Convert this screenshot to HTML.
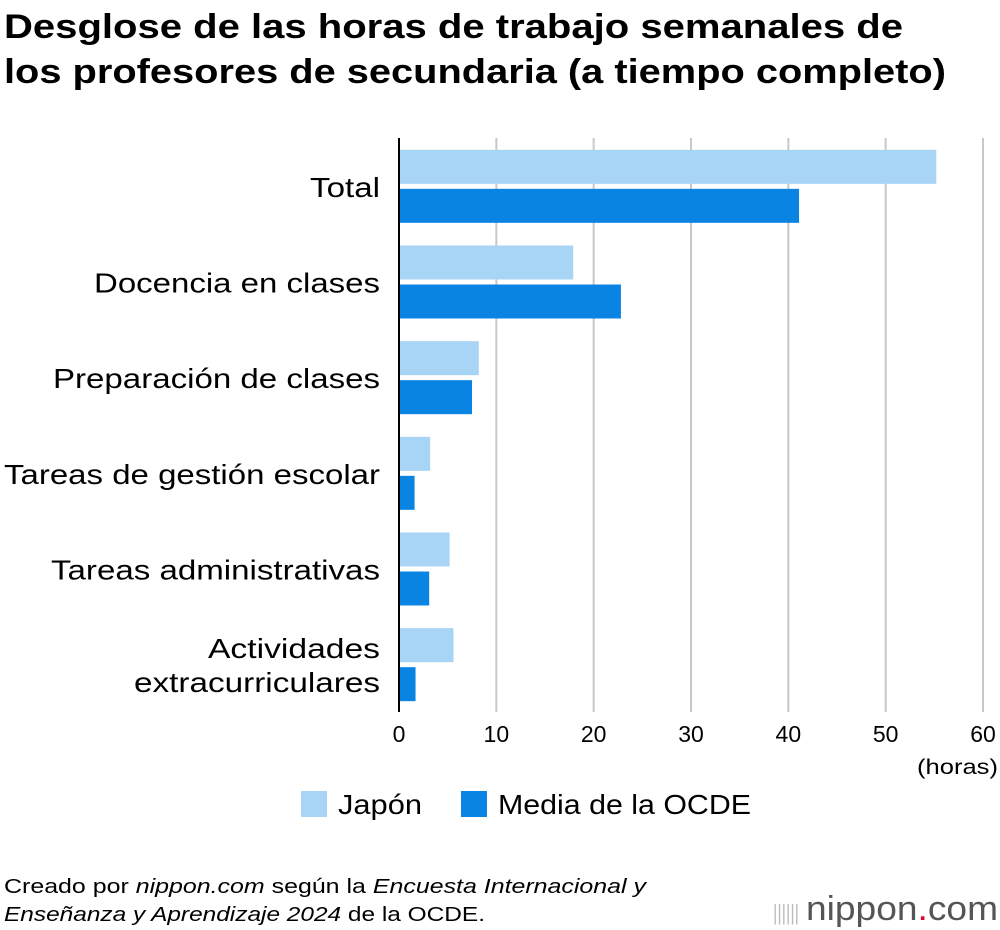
<!DOCTYPE html>
<html><head><meta charset="utf-8"><style>
body{margin:0;background:#fff;font-family:"Liberation Sans",Arial,sans-serif;}
#wrap{position:relative;width:1000px;height:930px;overflow:hidden;}
</style></head><body>
<div id="wrap">
<svg id="chart" width="1000" height="930" style="position:absolute;left:0;top:0" font-family="Liberation Sans, Arial, sans-serif">
<g>
<text x="4" y="38" font-size="34" font-weight="bold" textLength="899" lengthAdjust="spacingAndGlyphs">Desglose de las horas de trabajo semanales de</text>
<text x="4" y="83" font-size="34" font-weight="bold" textLength="942" lengthAdjust="spacingAndGlyphs">los profesores de secundaria (a tiempo completo)</text>
</g>
<g font-size="20">
<text x="4" y="893" textLength="642" lengthAdjust="spacingAndGlyphs">Creado por <tspan font-style="italic">nippon.com</tspan> según la <tspan font-style="italic">Encuesta Internacional y</tspan></text>
<text x="4" y="921" textLength="481" lengthAdjust="spacingAndGlyphs"><tspan font-style="italic">Enseñanza y Aprendizaje 2024</tspan> de la OCDE.</text>
</g>
<g>
<text x="773" y="920" font-size="22" fill="#bbb" textLength="26" lengthAdjust="spacingAndGlyphs">||||||</text>
<text x="806" y="920" font-size="34" fill="#555" textLength="192" lengthAdjust="spacingAndGlyphs">nippon<tspan fill="#e0002a">.</tspan>com</text>
</g>
</svg>
</div>
<script>
const categories=[["Total"],["Docencia en clases"],["Preparación de clases"],["Tareas de gestión escolar"],["Tareas administrativas"],["Actividades","extracurriculares"]];
const japan=[55.2,17.9,8.2,3.2,5.2,5.6];
const oecd=[41.1,22.8,7.5,1.6,3.1,1.7];
const ticks=[0,10,20,30,40,50,60];
const labelWidths={"Total":70,"Docencia en clases":286,"Preparación de clases":327,"Tareas de gestión escolar":376,"Tareas administrativas":329,"Actividades":172,"extracurriculares":246};
const NS="http://www.w3.org/2000/svg";
const svg=document.getElementById('chart');
const x0=399,x1=983,yTop=138,yBot=712;
const xs=v=>x0+(v-0)/(60-0)*(x1-x0);
const band=(yBot-yTop)/categories.length;
function mk(t,a){const e=document.createElementNS(NS,t);for(const k in a)e.setAttribute(k,a[k]);svg.appendChild(e);return e;}
ticks.forEach(t=>{
 if(t>0){const g=mk('line',{x1:xs(t),x2:xs(t),y1:yTop,y2:yBot,stroke:'#c8c8c8','stroke-width':2});
 
 }
 const tx=mk('text',{x:xs(t),y:742,'text-anchor':'middle','font-size':23,fill:'#000'});tx.textContent=t;
 
 
});
const unit=mk('text',{x:917,y:774,'font-size':21,fill:'#000',textLength:81,lengthAdjust:'spacingAndGlyphs'});unit.textContent='(horas)';


categories.forEach((c,i)=>{
 const cy=yTop+band*i+band/2+1;
 const b1=mk('rect',{x:x0,y:cy-37,width:xs(japan[i])-x0,height:34,fill:'#a8d4f5'});
 
 
 const b2=mk('rect',{x:x0,y:cy+2,width:xs(oecd[i])-x0,height:34,fill:'#0a84e3'});
 
 
 const n=c.length;
 c.forEach((l,j)=>{const w=labelWidths[l]||200;
 const t=mk('text',{x:380-w,y:cy+10+(j-(n-1)/2)*34,'font-size':28,fill:'#000',textLength:w,lengthAdjust:'spacingAndGlyphs'});t.textContent=l;
 
 });
});
const ax=mk('line',{x1:x0,x2:x0,y1:yTop,y2:yBot,stroke:'#000','stroke-width':2});


const leg=[['Japón','#a8d4f5',301,84],['Media de la OCDE','#0a84e3',461,253]];
leg.forEach(([l,c,x,w])=>{
 const r=mk('rect',{x:x,y:791,width:26,height:26,fill:c});
 
 
 const t=mk('text',{x:x+37,y:814,'font-size':28,fill:'#000',textLength:w,lengthAdjust:'spacingAndGlyphs'});t.textContent=l;
 
 
});
</script>
</body></html>
